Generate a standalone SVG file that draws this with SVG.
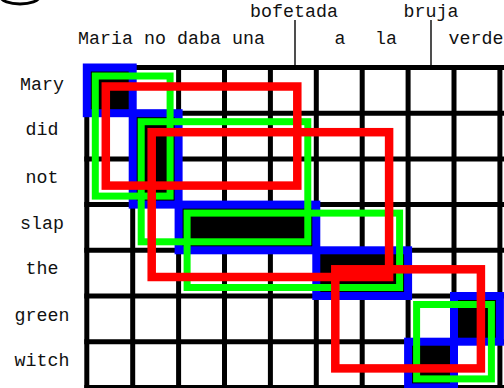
<svg xmlns="http://www.w3.org/2000/svg" width="504" height="388" viewBox="0 0 504 388">
<style>
text{font-family:"Liberation Mono","Courier New",monospace;font-size:18.3px;fill:#111}
.rl{text-anchor:middle}
.mid{text-anchor:middle}
.grid line{stroke:#000;stroke-width:5}
.al{fill:#000;stroke:#0000ff;stroke-width:8}
.gr{fill:none;stroke:#00ff00;stroke-width:7}
.rd{fill:none;stroke:#ff0000;stroke-width:8.5}
.tick{stroke:#222;stroke-width:1.6}
</style>
<rect width="504" height="388" fill="#fff"/>
<ellipse cx="20" cy="-3" rx="19" ry="7" fill="none" stroke="#000" stroke-width="3"/>
<g id="grid" class="grid">
<line x1="86.8" y1="65" x2="86.8" y2="390"/>
<line x1="132.7" y1="65" x2="132.7" y2="390"/>
<line x1="178.6" y1="65" x2="178.6" y2="390"/>
<line x1="224.5" y1="65" x2="224.5" y2="390"/>
<line x1="270.4" y1="65" x2="270.4" y2="390"/>
<line x1="316.3" y1="65" x2="316.3" y2="390"/>
<line x1="362.2" y1="65" x2="362.2" y2="390"/>
<line x1="408.1" y1="65" x2="408.1" y2="390"/>
<line x1="454" y1="65" x2="454" y2="390"/>
<line x1="499.9" y1="65" x2="499.9" y2="390"/>
<line x1="84.3" y1="67.5" x2="504" y2="67.5"/>
<line x1="84.3" y1="113.2" x2="504" y2="113.2"/>
<line x1="84.3" y1="158.9" x2="504" y2="158.9"/>
<line x1="84.3" y1="204.6" x2="504" y2="204.6"/>
<line x1="84.3" y1="250.3" x2="504" y2="250.3"/>
<line x1="84.3" y1="296" x2="504" y2="296"/>
<line x1="84.3" y1="341.7" x2="504" y2="341.7"/>
<line x1="84.3" y1="387.4" x2="504" y2="387.4"/>
</g>
<g id="alignments">
<rect id="a-mary-maria" class="al" x="86.8" y="67.5" width="45.9" height="45.7"/>
<rect id="a-didnot-no" class="al" x="132.7" y="113.2" width="45.9" height="91.4"/>
<rect id="a-slap-dabaunabofetada" class="al" x="178.6" y="204.6" width="137.7" height="45.7"/>
<rect id="a-the-ala" class="al" x="316.3" y="250.3" width="91.8" height="45.7"/>
<rect id="a-green-verde" class="al" x="454" y="296" width="45.9" height="45.7"/>
<rect id="a-witch-bruja" class="al" x="408.1" y="341.7" width="45.9" height="45.7"/>
</g>
<g id="phrases-green">
<rect id="g1" class="gr" x="95.3" y="76" width="74.8" height="120.1"/>
<rect id="g2" class="gr" x="141.2" y="121.7" width="166.6" height="120.1"/>
<rect id="g3" class="gr" x="187.1" y="213.1" width="212.5" height="74.4"/>
<rect id="g4" class="gr" x="416.6" y="304.5" width="74.8" height="74.4"/>
</g>
<g id="phrases-red">
<rect id="r1" class="rd" x="105.8" y="86.5" width="191.5" height="99.1"/>
<rect id="r2" class="rd" x="151.7" y="132.2" width="237.4" height="144.8"/>
<rect id="r3" class="rd" x="335.3" y="269.3" width="145.6" height="99.1"/>
</g>
<g id="connectors">
<line class="tick" x1="295" y1="20" x2="295" y2="65"/>
<line class="tick" x1="431" y1="20" x2="431" y2="65"/>
</g>
<g id="row-labels">
<text class="rl" x="42" y="90">Mary</text>
<text class="rl" x="42" y="135">did</text>
<text class="rl" x="42" y="183">not</text>
<text class="rl" x="42" y="229">slap</text>
<text class="rl" x="42" y="274">the</text>
<text class="rl" x="42" y="321">green</text>
<text class="rl" x="42" y="366">witch</text>
</g>
<g id="col-labels">
<text x="78" y="44">Maria</text>
<text x="144" y="44">no</text>
<text x="177" y="44">daba</text>
<text x="232" y="44">una</text>
<text class="mid" x="294" y="17">bofetada</text>
<text class="mid" x="340" y="44">a</text>
<text class="mid" x="386" y="44">la</text>
<text class="mid" x="431" y="17">bruja</text>
<text x="448.5" y="44">verde</text>
</g>
</svg>
